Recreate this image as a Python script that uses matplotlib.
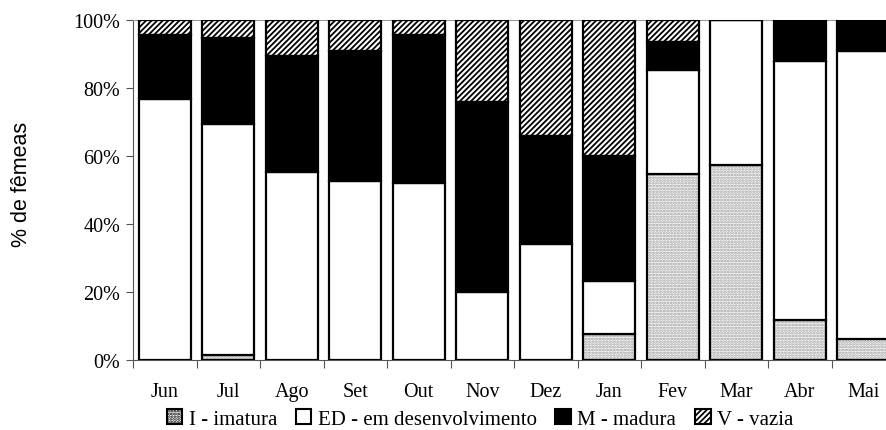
import matplotlib
matplotlib.use("Agg")
import matplotlib.pyplot as plt
import numpy as np
from matplotlib.patches import Patch

months = ["Jun", "Jul", "Ago", "Set", "Out", "Nov", "Dez", "Jan", "Fev", "Mar", "Abr", "Mai"]
imatura = [0, 1.5, 0, 0, 0, 0, 0, 7.6, 54.7, 57.4, 11.9, 6.2]
em_desenv = [76.8, 68.0, 55.4, 52.7, 52.0, 20.0, 34.0, 15.7, 30.6, 42.6, 76.1, 84.6]
madura = [18.8, 25.2, 33.9, 38.3, 43.5, 56.0, 32.0, 36.8, 8.1, 0, 12.0, 9.2]
vazia = [4.4, 5.3, 10.7, 9.0, 4.5, 24.0, 34.0, 39.9, 6.6, 0, 0, 0]
yticks = [0, 20, 40, 60, 80, 100]
legend_labels = ["I - imatura", "ED - em desenvolvimento", "M - madura", "V - vazia"]

plt.rcParams['hatch.linewidth'] = 1.3
serif = ["Liberation Serif", "DejaVu Serif"]
fs = 14.5

fig = plt.figure(figsize=(8.86, 4.31), dpi=100)
ax = fig.add_axes([133/886, 1-361/431, (895-133)/886, (361-21)/431])

x = np.arange(len(months))
w = 0.82
lw = 1.6
bottom = np.zeros(len(months))

# I - imatura: stipple
ax.bar(x, imatura, w, bottom=bottom, color="white", edgecolor="#9a9a9a", hatch="......", linewidth=0, zorder=2)
ax.bar(x, imatura, w, bottom=bottom, fill=False, edgecolor="black", linewidth=lw, zorder=3)
bottom += np.array(imatura)
# ED
ax.bar(x, em_desenv, w, bottom=bottom, color="white", edgecolor="black", linewidth=lw, zorder=3)
bottom += np.array(em_desenv)
# M
ax.bar(x, madura, w, bottom=bottom, color="black", edgecolor="black", linewidth=lw, zorder=3)
bottom += np.array(madura)
# V
ax.bar(x, vazia, w, bottom=bottom, color="white", edgecolor="black", hatch="//////", linewidth=0, zorder=2)
ax.bar(x, vazia, w, bottom=bottom, fill=False, edgecolor="black", linewidth=lw, zorder=3)

ax.set_xlim(-0.5, len(months) - 0.5)
ax.set_ylim(0, 100)
ax.set_yticks(yticks)
ax.set_yticklabels([f"{v}%" for v in yticks], fontfamily=serif, fontsize=fs)
ax.set_xticks(np.arange(len(months) + 1) - 0.5)
ax.set_xticklabels([])
ax.set_xticks(x, minor=True)
ax.set_xticklabels(months, minor=True, fontfamily=serif, fontsize=fs)
ax.tick_params(axis="x", which="major", direction="out", length=6, color="#555555")
ax.tick_params(axis="x", which="minor", length=0, pad=16)
ax.tick_params(axis="y", direction="out", length=5, color="#555555", pad=4)

ax.spines["right"].set_visible(False)
ax.spines["top"].set_color("#999999")
ax.spines["top"].set_linewidth(0.8)
ax.spines["left"].set_color("#555555")
ax.spines["bottom"].set_color("#555555")

ax.set_ylabel("% de fêmeas", fontfamily=["Liberation Sans", "DejaVu Sans"], fontsize=15.5)
ax.yaxis.set_label_coords(-(133 - 32) / (895 - 133), (361 - 184) / 340)

handles = [
    Patch(facecolor="white", edgecolor="black", hatch="......", linewidth=1.5),
    Patch(facecolor="white", edgecolor="black", linewidth=1.5),
    Patch(facecolor="black", edgecolor="black", linewidth=1.5),
    Patch(facecolor="white", edgecolor="black", hatch="//////", linewidth=1.5),
]
fig.legend(handles, legend_labels, loc="center", bbox_to_anchor=(480/886, 1-420/431), ncol=4,
           frameon=False, handlelength=0.75, handleheight=0.75, handletextpad=0.3, columnspacing=0.9,
           borderpad=0, prop={"family": serif, "size": fs + 0.5})

fig.savefig("out.png", dpi=100)
